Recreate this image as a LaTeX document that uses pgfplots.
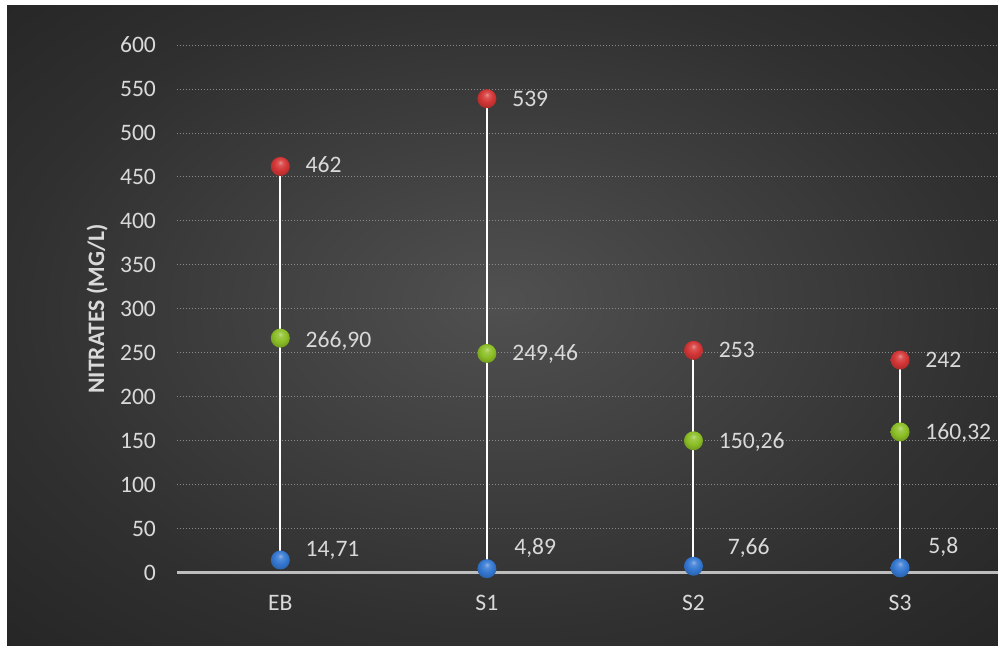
\documentclass[border=0pt]{standalone}
\usepackage{fontspec}
\setmainfont{Carlito}
\usepackage{pgfplots}
\usepackage{pgfplotstable}
\pgfplotsset{compat=1.18}

\definecolor{labelgray}{HTML}{D9D9D9}
\definecolor{gridgray}{HTML}{8A8A8A}
\definecolor{axisgray}{HTML}{BDBDBD}
\definecolor{bgin}{HTML}{505050}
\definecolor{bgmid}{HTML}{303030}
\definecolor{bgout}{HTML}{262626}
\definecolor{ballred}{HTML}{D43535}
\definecolor{ballgreen}{HTML}{8CBF26}
\definecolor{ballblue}{HTML}{3478D2}

\newcommand\fs{\fontsize{11.8pt}{14pt}\selectfont}

% chart area background
\pgfdeclareradialshading{bgshade}{\pgfpoint{0bp}{2bp}}{%
  color(0bp)=(bgin); color(25bp)=(bgmid); color(36bp)=(bgout); color(50bp)=(bgout)}

% glossy sphere markers
\pgfdeclareradialshading{redball}{\pgfpoint{0bp}{11bp}}{%
  color(0bp)=(ballred!55!white); color(7bp)=(ballred!85!white);
  color(17bp)=(ballred); color(30bp)=(ballred!80!black); color(50bp)=(ballred!65!black)}
\pgfdeclareradialshading{greenball}{\pgfpoint{0bp}{11bp}}{%
  color(0bp)=(ballgreen!55!white); color(7bp)=(ballgreen!85!white);
  color(17bp)=(ballgreen); color(30bp)=(ballgreen!80!black); color(50bp)=(ballgreen!65!black)}
\pgfdeclareradialshading{blueball}{\pgfpoint{0bp}{11bp}}{%
  color(0bp)=(ballblue!55!white); color(7bp)=(ballblue!85!white);
  color(17bp)=(ballblue); color(30bp)=(ballblue!80!black); color(50bp)=(ballblue!65!black)}

\pgfdeclareplotmark{redball}{%
  \pgfpathcircle{\pgfpointorigin}{\pgfplotmarksize}\pgfshadepath{redball}{0}\pgfusepath{discard}}
\pgfdeclareplotmark{greenball}{%
  \pgfpathcircle{\pgfpointorigin}{\pgfplotmarksize}\pgfshadepath{greenball}{0}\pgfusepath{discard}}
\pgfdeclareplotmark{blueball}{%
  \pgfpathcircle{\pgfpointorigin}{\pgfplotmarksize}\pgfshadepath{blueball}{0}\pgfusepath{discard}}

% x = site index, y = nitrates (mg/L), label, label offsets (pt)
\pgfplotstableread{
x y lbl dx dy
0 462 462 12.5 0.5
1 539 539 12.5 0
2 253 253 12.5 0
3 242 242 12.5 0
}\maxtab
\pgfplotstableread{
x y lbl dx dy
0 266.90 266,90 12.5 -1
1 249.46 249,46 12.5 0
2 150.26 150,26 12.5 0
3 160.32 160,32 12.5 0
}\meantab
\pgfplotstableread{
x y lbl dx dy
0 14.71 14,71 12.5 5.5
1 4.89 4,89 13.5 11
2 7.66 7,66 17 9.5
3 5.8 5,8 14 11
}\mintab

\pgfplotsset{
  balls/.style={
    only marks, mark size=4.75pt,
    point meta=explicit symbolic,
    visualization depends on={\thisrow{dx}\as\ldx},
    visualization depends on={\thisrow{dy}\as\ldy},
    nodes near coords,
    every node near coord/.style={font=\fs, text=labelgray, inner sep=0pt,
      anchor=base west, xshift=\ldx pt, yshift=\ldy pt-3.75pt},
  },
}

\begin{document}
\begin{tikzpicture}
\useasboundingbox (0,0) rectangle (499pt,323pt);
\fill[white] (0,0) rectangle (499pt,323pt);
\shade[shading=bgshade] (3.5pt,0) rectangle (499pt,320pt);
\clip (0,0) rectangle (499pt,323pt);
\begin{axis}[
  at={(88.5pt,36.5pt)}, anchor=south west,
  scale only axis, width=410.5pt, height=264pt,
  xmin=-0.5, xmax=3.474, ymin=0, ymax=600,
  clip=false,
  axis line style={draw=none},
  major tick length=0pt,
  xtick={0,1,2,3}, xticklabels={EB,S1,S2,S3},
  ytick={50,100,...,600},
  extra y ticks={0},
  extra y tick style={grid style={draw=axisgray, line width=1.5pt, solid}},
  ymajorgrids,
  grid style={draw=gridgray, line width=0.5pt, dash pattern=on 0.5pt off 1pt},
  /pgf/number format/assume math mode=true,
  ticklabel style={font=\fs, text=labelgray},
  yticklabel style={xshift=-7pt},
  xticklabel style={yshift=-7.5pt},
  ylabel={NITRATES (MG/L)},
  every axis y label/.style={at={(axis description cs:-0.0974,0.5)},
    rotate=90, anchor=center, font=\fs\bfseries, text=labelgray},
]
% min-to-max connectors
\addplot[white, line width=1pt, forget plot] coordinates {(0,14.71) (0,462)};
\addplot[white, line width=1pt, forget plot] coordinates {(1,4.89) (1,539)};
\addplot[white, line width=1pt, forget plot] coordinates {(2,7.66) (2,253)};
\addplot[white, line width=1pt, forget plot] coordinates {(3,5.8) (3,242)};

\addplot[balls, mark=blueball] table[x=x, y=y, meta=lbl] {\mintab};
\addplot[balls, mark=greenball] table[x=x, y=y, meta=lbl] {\meantab};
\addplot[balls, mark=redball] table[x=x, y=y, meta=lbl] {\maxtab};
\end{axis}
\end{tikzpicture}
\end{document}
